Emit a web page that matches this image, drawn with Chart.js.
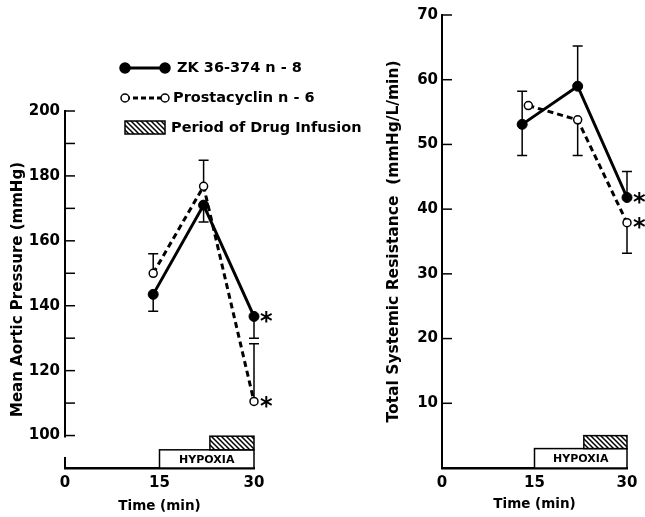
<!DOCTYPE html>
<html>
<head>
<meta charset="utf-8">
<script src="https://cdn.jsdelivr.net/npm/chart.js@4.4.0/dist/chart.umd.min.js"></script>
<style>
body { margin: 0; background: #fff; }
#wrap { position: relative; width: 645px; height: 517px; }
#mapChart { position: absolute; left: 0; top: 0; }
#tsrChart { position: absolute; left: 330px; top: 0; }
</style>
</head>
<body>
<div id="wrap">
<canvas id="mapChart" width="370" height="517"></canvas>
<canvas id="tsrChart" width="315" height="517"></canvas>
</div>
<script>
// left panel: mean aortic pressure (mmHg)
var mapTime = [14, 22, 30];
var mapZk = [143.5, 171, 136.7];
var mapZkLow = [138.3, 165.8, 130];
var mapPgi = [150, 176.8, 110.5];
var mapPgiHigh = [156, 184.8, 128.3];

// right panel: total systemic resistance (mmHg/L/min)
var tsrZkTime = [13, 22, 30];
var tsrPgiTime = [14, 22, 30];
var tsrZk = [53.1, 59, 41.8];
var tsrZkLow = [48.3, null, null];
var tsrZkHigh = [58.2, 65.2, 45.8];
var tsrPgi = [56, 53.8, 37.9];
var tsrPgiLow = [null, 48.3, 33.2];

var significant = [false, false, true];
var hypoxiaPeriod = [15, 30];
var infusionPeriod = [23, 30];
var timeTicks = [0, 15, 30];
var legendLabels = ['ZK 36-374 n - 8', 'Prostacyclin n - 6', 'Period of Drug Infusion'];

var FONT = "'DejaVu Sans', sans-serif";

function pts(xs, ys) {
    return xs.map(function (x, i) { return {x: x, y: ys[i]}; });
}

var hatchTile = (function () {
    var c = document.createElement('canvas');
    c.width = 5; c.height = 5;
    var g = c.getContext('2d');
    g.fillStyle = '#fff'; g.fillRect(0, 0, 5, 5);
    g.strokeStyle = '#000'; g.lineWidth = 1.5;
    g.beginPath();
    g.moveTo(-1, -1); g.lineTo(6, 6);
    g.moveTo(-1, 4); g.lineTo(1, 6);
    g.moveTo(4, -1); g.lineTo(6, 1);
    g.stroke();
    return c;
})();

function drawDot(ctx, x, y, filled) {
    ctx.beginPath();
    ctx.arc(x, y, filled ? 5 : 4, 0, Math.PI * 2);
    ctx.fillStyle = filled ? '#000' : '#fff';
    ctx.fill();
    ctx.lineWidth = 1.5; ctx.strokeStyle = '#000';
    ctx.stroke();
}

var panelPlugin = {
    id: 'panel',
    beforeDatasetsDraw: function (chart, args, opts) {
        var ctx = chart.ctx, xs = chart.scales.x, ys = chart.scales.y;
        ctx.save();
        // hypoxia box and infusion bar
        var hx0 = xs.getPixelForValue(hypoxiaPeriod[0]), hx1 = xs.getPixelForValue(hypoxiaPeriod[1]);
        var yb = ys.getPixelForValue(ys.min), yh = ys.getPixelForValue(opts.hypoxiaTop);
        ctx.fillStyle = '#fff';
        ctx.fillRect(hx0, yh, hx1 - hx0, yb - yh);
        ctx.lineWidth = 1.5; ctx.strokeStyle = '#000';
        ctx.strokeRect(hx0, yh, hx1 - hx0, yb - yh);
        ctx.fillStyle = '#000';
        ctx.font = 'bold 11px ' + FONT;
        ctx.textAlign = 'center'; ctx.textBaseline = 'middle';
        ctx.fillText('HYPOXIA', (hx0 + hx1) / 2, (yh + yb) / 2 + 1);
        var ix0 = xs.getPixelForValue(infusionPeriod[0]), ix1 = xs.getPixelForValue(infusionPeriod[1]);
        var yi = ys.getPixelForValue(opts.infusionTop);
        ctx.fillStyle = ctx.createPattern(hatchTile, 'repeat');
        ctx.fillRect(ix0, yi, ix1 - ix0, yh - yi);
        ctx.strokeRect(ix0, yi, ix1 - ix0, yh - yi);
        // error bars
        ctx.lineWidth = 1.5;
        chart.data.datasets.forEach(function (ds, i) {
            var meta = chart.getDatasetMeta(i);
            meta.data.forEach(function (pt, j) {
                [ds.errLow, ds.errHigh].forEach(function (ends) {
                    if (!ends || ends[j] == null) return;
                    var ye = ys.getPixelForValue(ends[j]);
                    ctx.beginPath();
                    ctx.moveTo(pt.x, pt.y); ctx.lineTo(pt.x, ye);
                    ctx.moveTo(pt.x - 5, ye); ctx.lineTo(pt.x + 5, ye);
                    ctx.stroke();
                });
            });
        });
        ctx.restore();
    },
    afterDatasetsDraw: function (chart) {
        var ctx = chart.ctx;
        ctx.save();
        ctx.fillStyle = '#000';
        ctx.font = 'bold 24px ' + FONT;
        ctx.textAlign = 'left'; ctx.textBaseline = 'middle';
        chart.data.datasets.forEach(function (ds, i) {
            chart.getDatasetMeta(i).data.forEach(function (pt, j) {
                if (ds.stars && ds.stars[j]) ctx.fillText('*', pt.x + 6, pt.y + 6);
            });
        });
        ctx.restore();
    },
    afterDraw: function (chart, args, opts) {
        var ctx = chart.ctx, ys = chart.scales.y, left = chart.chartArea.left;
        ctx.save();
        ctx.strokeStyle = '#000'; ctx.lineWidth = 1.5;
        ys.ticks.forEach(function (t) {
            if (t.value === ys.min) return;
            var py = ys.getPixelForValue(t.value);
            ctx.beginPath(); ctx.moveTo(left, py); ctx.lineTo(left + 10, py); ctx.stroke();
        });
        if (opts.axisBreak) {
            var b0 = ys.getPixelForValue(opts.axisBreak[1]), b1 = ys.getPixelForValue(opts.axisBreak[0]);
            ctx.fillStyle = '#fff';
            ctx.fillRect(left - 3, b0, 6, b1 - b0);
        }
        if (opts.legend) {
            var lg = opts.legend;
            ctx.font = 'bold 14.5px ' + FONT;
            ctx.textAlign = 'left'; ctx.textBaseline = 'middle';
            // solid series
            ctx.lineWidth = 3; ctx.setLineDash([]);
            ctx.beginPath(); ctx.moveTo(lg.x, lg.y); ctx.lineTo(lg.x + 40, lg.y); ctx.stroke();
            drawDot(ctx, lg.x, lg.y, true); drawDot(ctx, lg.x + 40, lg.y, true);
            ctx.fillStyle = '#000';
            ctx.fillText(legendLabels[0], lg.x + 52, lg.y);
            // dashed series
            var y2 = lg.y + lg.gap;
            ctx.lineWidth = 3; ctx.setLineDash([5, 3]);
            ctx.beginPath(); ctx.moveTo(lg.x, y2); ctx.lineTo(lg.x + 40, y2); ctx.stroke();
            ctx.setLineDash([]);
            drawDot(ctx, lg.x, y2, false); drawDot(ctx, lg.x + 40, y2, false);
            ctx.fillStyle = '#000';
            ctx.fillText(legendLabels[1], lg.x + 48, y2);
            // infusion swatch
            var y3 = lg.y + lg.gap * 2;
            ctx.fillStyle = ctx.createPattern(hatchTile, 'repeat');
            ctx.fillRect(lg.x, y3 - 7, 40, 13);
            ctx.lineWidth = 1.5; ctx.strokeRect(lg.x, y3 - 7, 40, 13);
            ctx.fillStyle = '#000';
            ctx.fillText(legendLabels[2], lg.x + 46, y3);
        }
        ctx.restore();
    }
};

function timeScale(height, titlePad) {
    return {
        type: 'linear', min: 0, max: 30,
        afterBuildTicks: function (s) { s.ticks = timeTicks.map(function (v) { return {value: v}; }); },
        afterFit: function (s) { s.height = height; },
        grid: {display: false, drawTicks: false},
        border: {display: true, color: '#000', width: 2.5},
        ticks: {color: '#000', padding: 6, font: {family: FONT, size: 15, weight: 'bold'}},
        title: {display: true, text: 'Time (min)', color: '#000', padding: {top: 0, bottom: titlePad},
            font: {family: FONT, size: 13.5, weight: 'bold'}}
    };
}

function zkSet(xs, ys, lo, hi) {
    return {data: pts(xs, ys), errLow: lo, errHigh: hi, stars: significant, clip: false,
        borderColor: '#000', borderWidth: 3, pointRadius: 5, pointBackgroundColor: '#000',
        pointBorderColor: '#000', pointBorderWidth: 1, tension: 0};
}
function pgiSet(xs, ys, lo, hi) {
    return {data: pts(xs, ys), errLow: lo, errHigh: hi, stars: significant, clip: false,
        borderColor: '#000', borderWidth: 3, borderDash: [6, 4], pointRadius: 4, pointBackgroundColor: '#fff',
        pointBorderColor: '#000', pointBorderWidth: 1.5, tension: 0};
}

new Chart(document.getElementById('mapChart').getContext('2d'), {
    type: 'line',
    data: {datasets: [zkSet(mapTime, mapZk, mapZkLow, null), pgiSet(mapTime, mapPgi, null, mapPgiHigh)]},
    options: {
        responsive: false, animation: false,
        layout: {padding: {left: 0, right: 116, top: 111, bottom: 0}},
        plugins: {
            legend: {display: false}, tooltip: {enabled: false},
            panel: {hypoxiaTop: 95.6, infusionTop: 99.8, axisBreak: [93.4, 99.4],
                legend: {x: 125, y: 68, gap: 30}}
        },
        scales: {
            x: timeScale(49, 2),
            y: {
                min: 90, max: 200,
                afterFit: function (s) { s.width = 65; },
                grid: {display: false, drawTicks: false},
                border: {display: true, color: '#000', width: 2},
                ticks: {stepSize: 10, color: '#000', padding: 5, font: {family: FONT, size: 15, weight: 'bold'},
                    callback: function (v) { return (v >= 100 && v % 20 === 0) ? v : ''; }},
                title: {display: true, text: 'Mean Aortic Pressure (mmHg)', color: '#000', padding: {top: 9, bottom: 0},
                    font: {family: FONT, size: 15, weight: 'bold'}}
            }
        }
    },
    plugins: [panelPlugin]
});

new Chart(document.getElementById('tsrChart').getContext('2d'), {
    type: 'line',
    data: {datasets: [zkSet(tsrZkTime, tsrZk, tsrZkLow, tsrZkHigh), pgiSet(tsrPgiTime, tsrPgi, tsrPgiLow, null)]},
    options: {
        responsive: false, animation: false,
        layout: {padding: {left: 0, right: 18, top: 15, bottom: 0}},
        plugins: {
            legend: {display: false}, tooltip: {enabled: false},
            panel: {hypoxiaTop: 3, infusionTop: 5}
        },
        scales: {
            x: timeScale(49, 4),
            y: {
                min: 0, max: 70,
                afterFit: function (s) { s.width = 112; },
                grid: {display: false, drawTicks: false},
                border: {display: true, color: '#000', width: 2},
                ticks: {stepSize: 10, color: '#000', padding: 4, font: {family: FONT, size: 15, weight: 'bold'},
                    callback: function (v) { return v === 0 ? '' : v; }},
                title: {display: true, text: 'Total Systemic Resistance  (mmHg/L/min)', color: '#000', padding: {top: 55, bottom: 0},
                    font: {family: FONT, size: 15.5, weight: 'bold'}}
            }
        }
    },
    plugins: [panelPlugin]
});
</script>
</body>
</html>
